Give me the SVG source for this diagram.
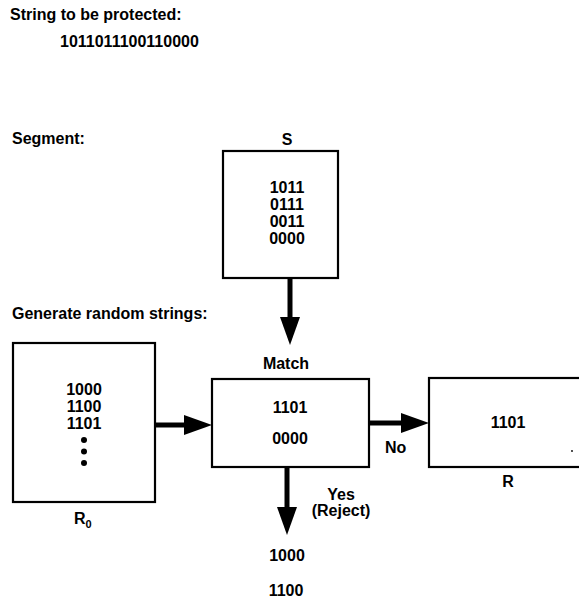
<svg xmlns="http://www.w3.org/2000/svg" width="579" height="600" viewBox="0 0 579 600">
  <defs>
    <style>
      text { font-family: "Liberation Sans", Arial, sans-serif; font-weight: bold; font-size: 16px; fill: #000; }
      .c { text-anchor: middle; }
      .box { fill: #fff; stroke: #000; stroke-width: 2.2; }
      .conn { stroke: #000; stroke-width: 5; fill: none; marker-end: url(#head); }
    </style>
    <marker id="head" markerUnits="userSpaceOnUse" markerWidth="30" markerHeight="22" refX="0" refY="10" orient="auto" overflow="visible">
      <path d="M0,0 L28,10 L0,20 Z" fill="#000"/>
    </marker>
  </defs>
  <rect width="579" height="600" fill="#fff"/>

  <g id="titles">
    <text x="10" y="20">String to be protected:</text>
    <text x="60" y="47">1011011100110000</text>
    <text x="12" y="144">Segment:</text>
    <text x="12" y="319">Generate random strings:</text>
  </g>

  <g id="node-S">
    <text class="c" x="287" y="145">S</text>
    <rect class="box" x="223" y="151" width="115" height="127"/>
    <text class="c" x="287" y="193">1011</text>
    <text class="c" x="287" y="210">0111</text>
    <text class="c" x="287" y="227">0011</text>
    <text class="c" x="287" y="244">0000</text>
  </g>

  <g id="node-R0">
    <rect class="box" x="13" y="343" width="142" height="159"/>
    <text class="c" x="84" y="395">1000</text>
    <text class="c" x="84" y="412">1100</text>
    <text class="c" x="84" y="429">1101</text>
    <circle cx="84" cy="440" r="3"/>
    <circle cx="84" cy="451.5" r="3"/>
    <circle cx="84" cy="463" r="3"/>
    <text x="74" y="524">R<tspan font-size="11" dy="4">0</tspan></text>
  </g>

  <g id="node-Match">
    <text class="c" x="286" y="369">Match</text>
    <rect class="box" x="212" y="379" width="157" height="88"/>
    <text class="c" x="290" y="413">1101</text>
    <text class="c" x="290" y="444">0000</text>
  </g>

  <g id="node-R">
    <rect class="box" x="429" y="378" width="160" height="89"/>
    <text class="c" x="508" y="428">1101</text>
    <circle cx="572" cy="451" r="0.9"/>
    <text class="c" x="508" y="487">R</text>
  </g>

  <g id="rejected">
    <text class="c" x="287" y="561">1000</text>
    <text class="c" x="286" y="596">1100</text>
  </g>

  <g id="connectors">
    <line class="conn" x1="290" y1="278" x2="290" y2="317"/>
    <line class="conn" x1="155" y1="425" x2="184" y2="425"/>
    <line class="conn" x1="369" y1="423" x2="401" y2="423"/>
    <line class="conn" x1="287" y1="467" x2="287" y2="507"/>
    <text x="385" y="453">No</text>
    <text class="c" x="341" y="500">Yes</text>
    <text class="c" x="341" y="516">(Reject)</text>
  </g>
</svg>
